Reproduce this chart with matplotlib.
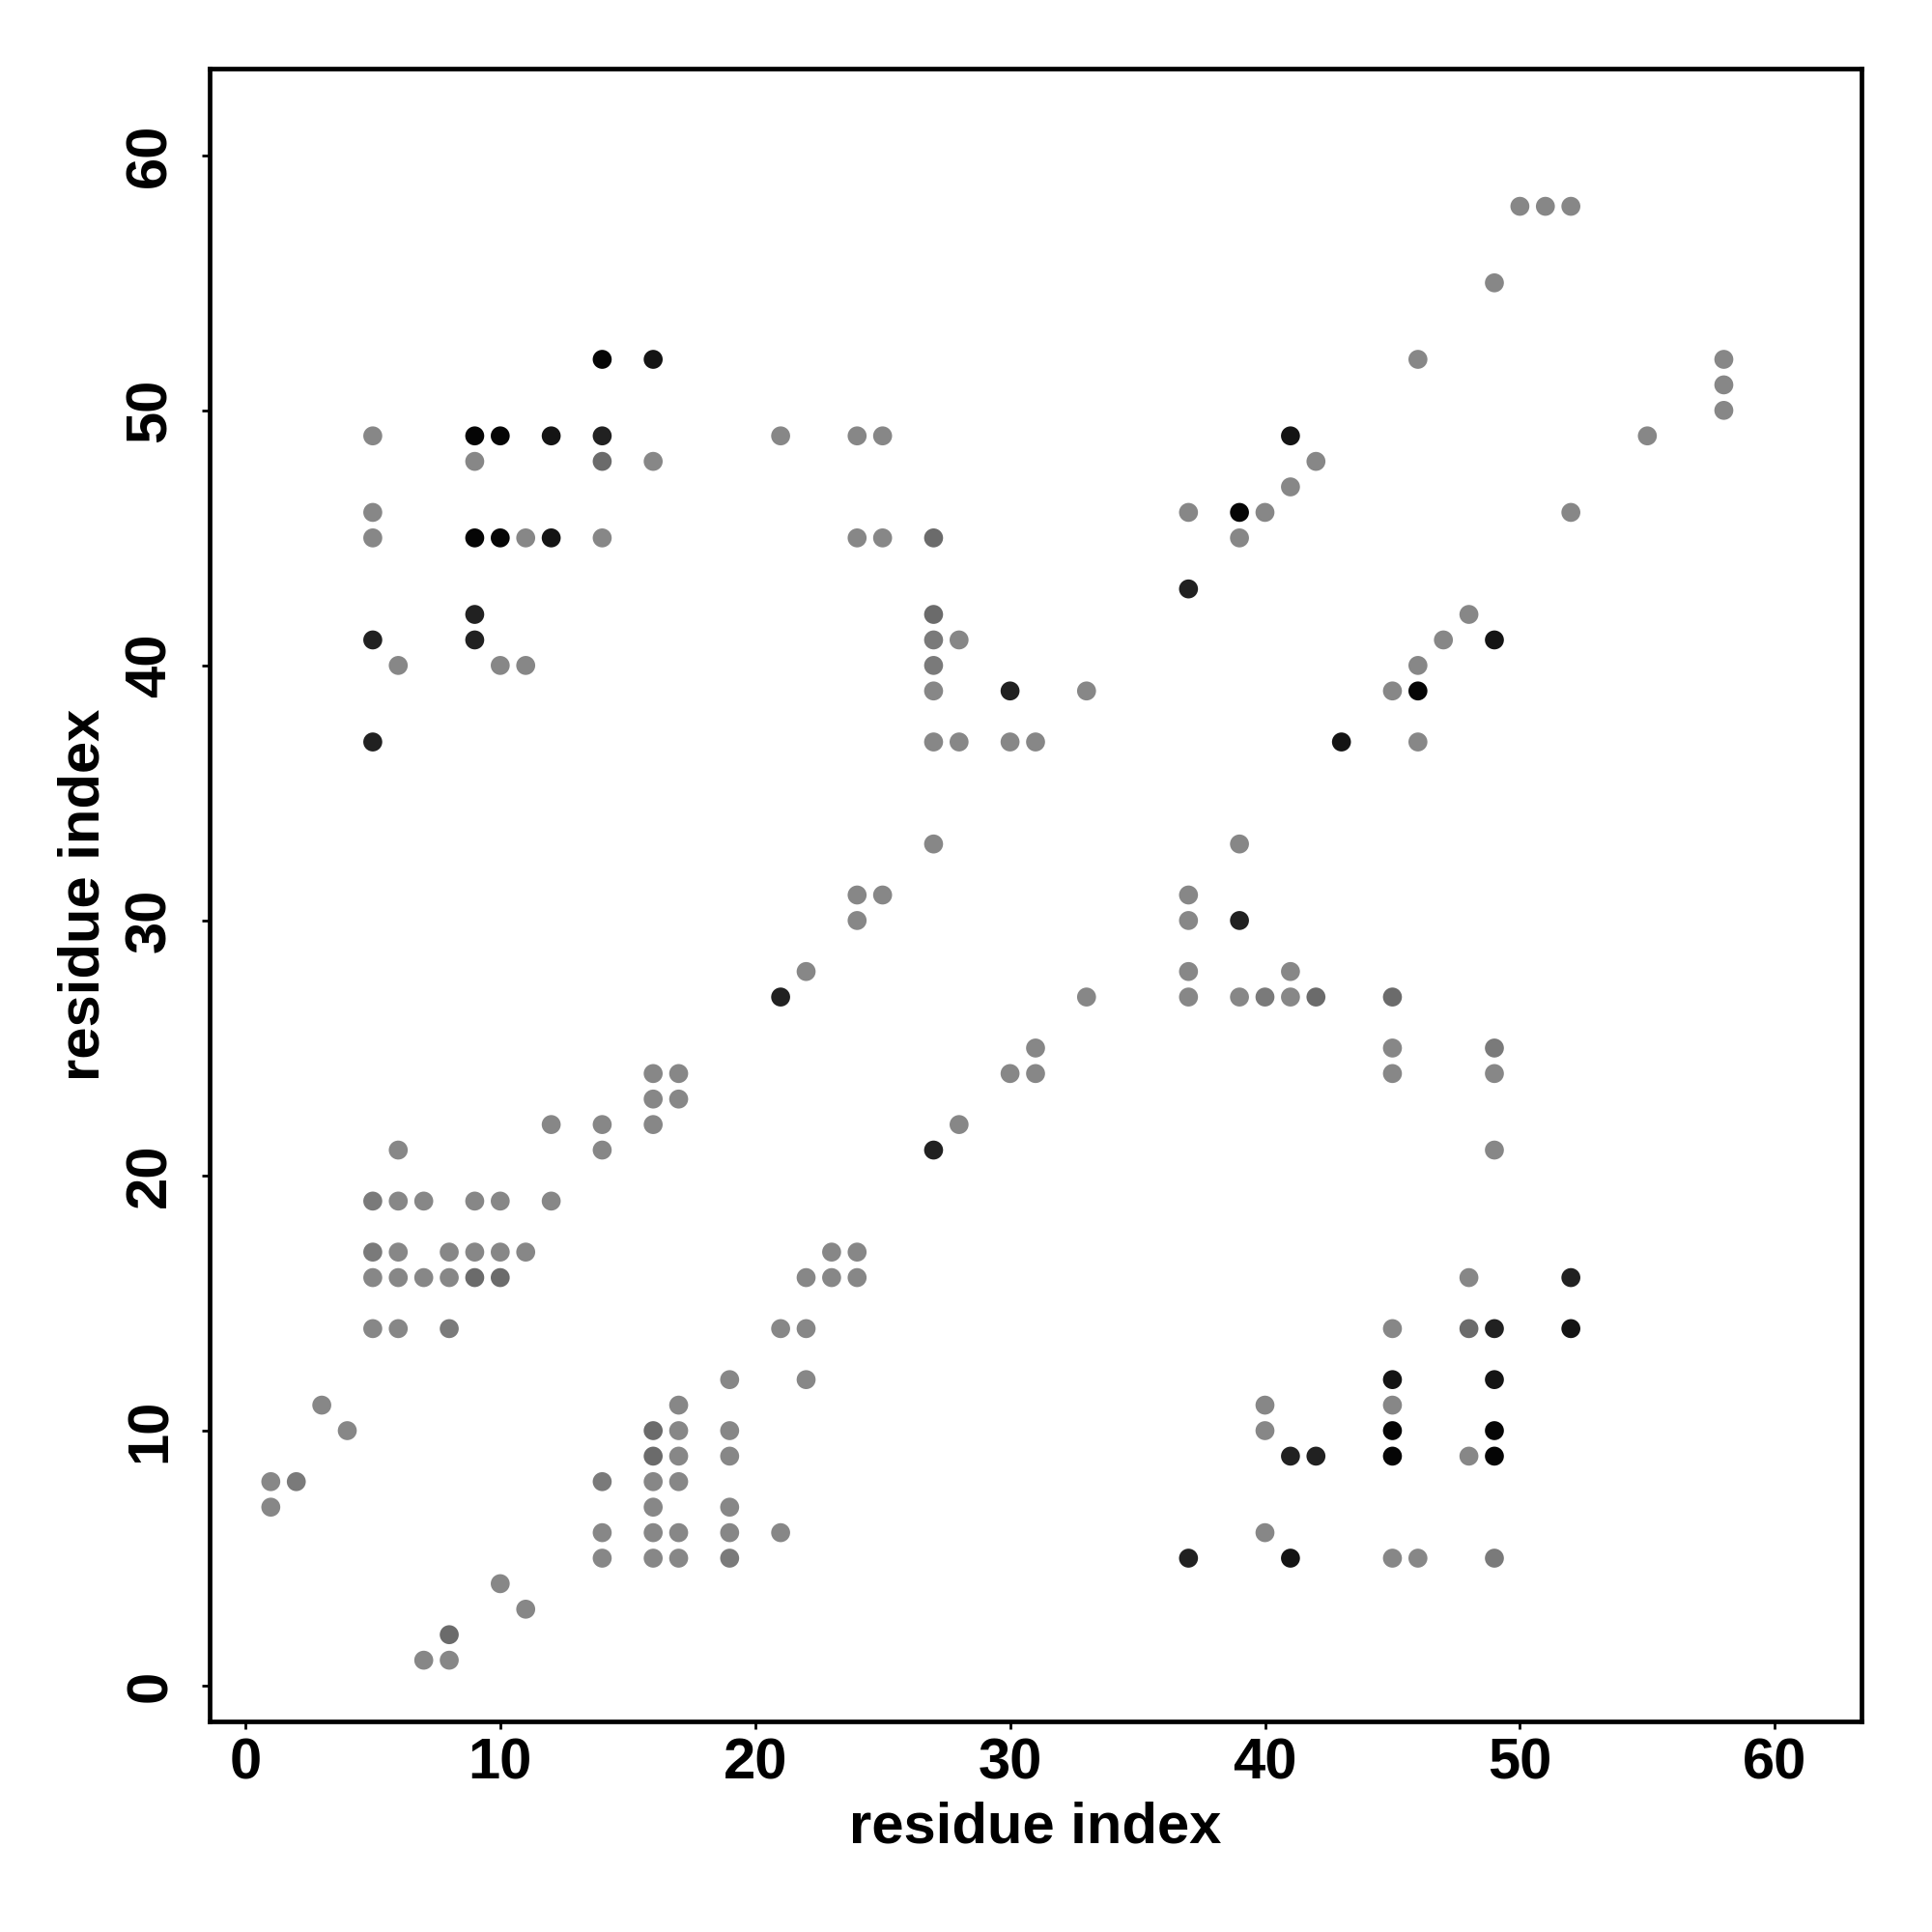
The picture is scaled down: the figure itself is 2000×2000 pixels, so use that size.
import matplotlib
matplotlib.use('Agg')
import matplotlib.pyplot as plt

plt.rcParams['font.family'] = ['Liberation Sans', 'DejaVu Sans']
plt.rcParams['font.weight'] = 'bold'

# grey levels of the dots (0 = black)
L = 0.53
M = 0.48
D = 0.42
K1 = 0.13
K2 = 0.08
K3 = 0.02

res_i = [1, 1, 2, 3, 4,
         5, 5, 5, 5, 5, 5, 5, 5, 5,
         6, 6, 6, 6, 6, 6,
         7, 7, 7,
         8, 8, 8, 8, 8,
         9, 9, 9, 9, 9, 9, 9, 9,
         10, 10, 10, 10, 10, 10, 10,
         11, 11, 11, 11,
         12, 12, 12, 12,
         14, 14, 14, 14, 14, 14, 14, 14, 14,
         16, 16, 16, 16, 16, 16, 16, 16, 16, 16, 16,
         17, 17, 17, 17, 17, 17, 17, 17,
         19, 19, 19, 19, 19, 19,
         21, 21, 21, 21,
         22, 22, 22, 22,
         23, 23,
         24, 24, 24, 24, 24, 24,
         25, 25, 25,
         27, 27, 27, 27, 27, 27, 27, 27,
         28, 28, 28,
         30, 30, 30,
         31, 31, 31,
         33, 33,
         37, 37, 37, 37, 37, 37, 37,
         39, 39, 39, 39, 39,
         40, 40, 40, 40, 40,
         41, 41, 41, 41, 41, 41,
         42, 42, 42,
         43,
         45, 45, 45, 45, 45, 45, 45, 45, 45, 45,
         46, 46, 46, 46, 46,
         47,
         48, 48, 48, 48,
         49, 49, 49, 49, 49, 49, 49, 49, 49, 49,
         50, 51,
         52, 52, 52, 52,
         55,
         58, 58, 58]
res_j = [8, 7, 8, 11, 10,
         49, 46, 45, 41, 37, 19, 17, 16, 14,
         40, 21, 19, 17, 16, 14,
         19, 16, 1,
         17, 16, 14, 2, 1,
         49, 48, 45, 42, 41, 19, 17, 16,
         49, 45, 40, 19, 17, 16, 4,
         45, 40, 17, 3,
         49, 45, 22, 19,
         52, 49, 48, 45, 22, 21, 8, 6, 5,
         52, 48, 24, 23, 22, 10, 9, 8, 7, 6, 5,
         24, 23, 11, 10, 9, 8, 6, 5,
         12, 10, 9, 7, 6, 5,
         49, 27, 14, 6,
         28, 16, 14, 12,
         17, 16,
         49, 45, 31, 30, 17, 16,
         49, 45, 31,
         45, 42, 41, 40, 39, 37, 33, 21,
         41, 37, 22,
         39, 37, 24,
         37, 25, 24,
         39, 27,
         46, 43, 31, 30, 28, 27, 5,
         46, 45, 33, 30, 27,
         46, 27, 11, 10, 6,
         49, 47, 28, 27, 9, 5,
         48, 27, 9,
         37,
         39, 27, 25, 24, 14, 12, 11, 10, 9, 5,
         52, 40, 39, 37, 5,
         41,
         42, 16, 14, 9,
         55, 41, 25, 24, 21, 14, 12, 10, 9, 5,
         58, 58,
         58, 46, 16, 14,
         49,
         52, 51, 50]
grey = [L, L, M, L, L,
        L, L, L, K1, K1, M, M, L, L,
        L, L, L, L, L, L,
        L, L, L,
        L, L, M, D, L,
        K3, L, K3, K1, K1, L, L, D,
        K3, K3, L, L, L, D, L,
        L, L, L, L,
        K2, K2, L, L,
        K3, K1, D, L, L, L, M, L, L,
        K2, L, L, L, L, D, D, L, L, L, L,
        L, L, L, L, L, L, L, L,
        L, L, L, L, L, M,
        L, K1, L, L,
        L, L, L, L,
        L, L,
        L, L, L, L, L, L,
        L, L, L,
        D, D, M, M, L, L, L, K1,
        L, L, L,
        K1, L, L,
        L, L, L,
        L, L,
        L, K1, L, L, L, L, K1,
        K3, L, L, K1, L,
        L, M, L, L, L,
        K2, L, L, L, K1, K2,
        L, D, K1,
        K2,
        L, D, L, L, L, K2, L, K3, K3, L,
        L, L, K3, L, L,
        L,
        L, L, D, L,
        L, K2, M, L, L, K1, K2, K3, K3, M,
        L, L,
        L, L, K1, K2,
        L,
        L, L, L]

fig = plt.figure(figsize=(10, 10), dpi=200)
ax = fig.add_axes([0.1085, 0.109, 0.855, 0.8555])
cols = [(g, g, g) for g in grey]
ax.scatter(res_i, res_j, s=50, c=cols, linewidths=0)

ax.set_xlim(-1.4, 63.4)
ax.set_ylim(-1.4, 63.4)
ax.set_xticks(range(0, 61, 10))
ax.set_yticks(range(0, 61, 10))
for sp in ax.spines.values():
    sp.set_linewidth(1.7)
ax.tick_params(axis='both', length=3, width=1.0, labelsize=21.5)
ax.tick_params(axis='x', pad=3)
ax.tick_params(axis='y', pad=9)
for t in ax.get_yticklabels():
    t.set_rotation(90)
    t.set_va('center')

ax.set_xlabel('residue index', fontsize=21.5, fontweight='bold', labelpad=4)
ax.set_ylabel('residue index', fontsize=21.5, fontweight='bold', labelpad=5)

fig.savefig('out.png', dpi=200)
